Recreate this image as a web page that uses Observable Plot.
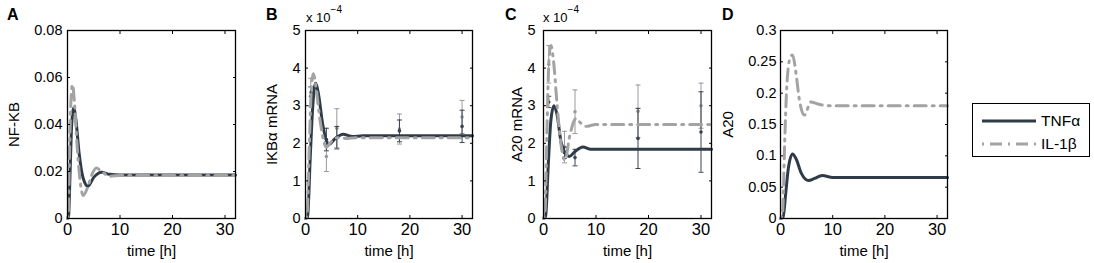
<!DOCTYPE html>
<html>
<head>
<meta charset="utf-8">
<script src="https://cdn.jsdelivr.net/npm/d3@7"></script>
<script src="https://cdn.jsdelivr.net/npm/@observablehq/plot@0.6"></script>
<style>
  html, body { margin: 0; padding: 0; background: #fff; }
  #wrap { position: relative; width: 1094px; height: 263px; font-family: "Liberation Sans", Arial, sans-serif; color: #000; }
  #wrap > div.p { position: absolute; top: 0; }
  .letter { position: absolute; font-weight: bold; font-size: 16px; top: 6px; }
  .exp { position: absolute; font-size: 13px; top: 8px; }
  .exp sup { font-size: 10px; position: relative; top: -4px; }
  #legend { position: absolute; left: 972px; top: 103px; width: 116px; height: 52px; border: 1.3px solid #000; background: #fff; }
  #legend .row { position: absolute; left: 8px; height: 20px; display: flex; align-items: center; font-size: 15.5px; }
  #legend svg { margin-right: 4px; }
</style>
</head>
<body>
<div id="wrap"></div>
<script>
// ---------- data ----------
const xTicks = [0, 10, 20, 30];
const seriesNames = ["TNFα", "IL-1β"];
const darkColor = "#303b48";
const grayColor = "#a3a3a3";

// Panel A: NF-KB
const aTnfT = [0, 0.2, 0.5, 0.8, 1.2, 1.6, 2.2, 3.0, 3.9, 5.0, 6.5, 8, 10, 32];
const aTnfV = [0, 0.001, 0.02, 0.040, 0.047, 0.042, 0.028, 0.017, 0.0137, 0.0175, 0.0197, 0.0188, 0.0185, 0.0185];
const aIlT = [0, 0.15, 0.4, 0.7, 0.95, 1.3, 1.8, 2.4, 3.0, 3.8, 4.7, 5.5, 6.5, 8, 10, 32];
const aIlV = [0, 0.002, 0.03, 0.052, 0.057, 0.050, 0.032, 0.016, 0.0098, 0.013, 0.019, 0.0215, 0.020, 0.018, 0.0183, 0.0183];
const aTicks = [0, 0.02, 0.04, 0.06, 0.08];

// Panel B: IKBa mRNA (x 1e-4)
const bTnfT = [0, 0.4, 0.9, 1.4, 1.9, 2.5, 3.3, 4.5, 5.5, 7.2, 9, 11, 32];
const bTnfV = [0, 0.05, 1.6, 3.0, 3.6, 3.3, 2.5, 1.97, 2.1, 2.24, 2.18, 2.2, 2.2];
const bIlT = [0, 0.3, 0.7, 1.1, 1.5, 2.0, 2.8, 4.0, 5.0, 6.2, 8, 10, 32];
const bIlV = [0, 0.1, 1.8, 3.4, 3.85, 3.5, 2.6, 1.9, 2.05, 2.15, 2.13, 2.15, 2.15];
const bTicks = [0, 1, 2, 3, 4, 5];
const bErrT = [1, 4, 6, 18, 30];
const bTnfM = [3.25, 2.1, 2.15, 2.33, 2.45];
const bTnfE = [0.25, 0.3, 0.3, 0.29, 0.43];
const bIlM = [3.35, 1.65, 2.4, 2.38, 2.7];
const bIlE = [0.38, 0.4, 0.52, 0.4, 0.44];

// Panel C: A20 mRNA (x 1e-4)
const cTnfT = [0, 0.4, 0.9, 1.4, 2.0, 2.6, 3.4, 4.9, 6, 7.5, 9, 11, 32];
const cTnfV = [0, 0.05, 1.4, 2.6, 3.0, 2.75, 2.0, 1.65, 1.78, 1.9, 1.84, 1.84, 1.84];
const cIlT = [0, 0.3, 0.7, 1.0, 1.4, 1.9, 2.6, 3.3, 4.1, 5.0, 6.2, 7, 8, 10, 32];
const cIlV = [0, 0.2, 2.6, 4.1, 4.6, 4.2, 3.0, 2.0, 1.55, 2.2, 2.66, 2.55, 2.45, 2.5, 2.5];
const cTicks = [0, 1, 2, 3, 4, 5];
const cErrT = [1, 4, 6, 18, 30];
const cTnfM = [3.1, 1.75, 1.62, 2.13, 2.3];
const cTnfE = [0.15, 0.15, 0.22, 0.8, 1.07];
const cIlM = [4.1, 1.9, 2.84, 2.85, 3.0];
const cIlE = [0.5, 0.42, 0.58, 0.7, 0.6];

// Panel D: A20 protein
const dTnfT = [0, 0.5, 1.0, 1.5, 2.3, 3.0, 4.0, 5.4, 6.5, 8.0, 10, 32];
const dTnfV = [0, 0.002, 0.04, 0.08, 0.103, 0.095, 0.072, 0.0605, 0.064, 0.0685, 0.0655, 0.0655];
const dIlT = [0, 0.4, 0.8, 1.2, 1.8, 2.3, 3.0, 3.6, 4.6, 5.8, 7, 9.5, 32];
const dIlV = [0, 0.01, 0.12, 0.21, 0.255, 0.261, 0.23, 0.19, 0.165, 0.186, 0.183, 0.18, 0.18];
const dTicks = [0, 0.05, 0.1, 0.15, 0.2, 0.25, 0.3];

// ---------- drawing ----------
const capSymbol = {draw(ctx, size) { const r = Math.sqrt(size / Math.PI); ctx.moveTo(-r, 0); ctx.lineTo(r, 0); }};
const fmt = d => String(+d.toFixed(4));

function rows(T, V) { return T.map((t, i) => ({t, v: V[i]})); }
function errRows(T, M, E) { return T.map((t, i) => ({t, m: M[i], lo: M[i] - E[i], hi: M[i] + E[i]})); }

function errMarks(data, color) {
  return [
    Plot.ruleX(data, {x: "t", y1: "lo", y2: "hi", stroke: color, strokeWidth: 1}),
    Plot.dot(data, {x: "t", y: "lo", symbol: capSymbol, r: 2.5, stroke: color, strokeWidth: 1}),
    Plot.dot(data, {x: "t", y: "hi", symbol: capSymbol, r: 2.5, stroke: color, strokeWidth: 1}),
    Plot.dot(data, {x: "t", y: "m", r: 1.8, fill: color, stroke: null})
  ];
}

function panel(opt) {
  const marks = [];
  if (opt.ilErr) marks.push(...errMarks(opt.ilErr, "#9a9a9a"));
  if (opt.tnfErr) marks.push(...errMarks(opt.tnfErr, "#3a4450"));
  marks.push(
    Plot.line(opt.tnf, {x: "t", y: "v", stroke: darkColor, strokeWidth: 3, curve: "monotone-x"}),
    Plot.line(opt.il, {x: "t", y: "v", stroke: grayColor, strokeWidth: 3, strokeDasharray: "2,6,12,6", curve: "monotone-x"}),
    Plot.frame({stroke: "#000", strokeWidth: 1.3}),
    Plot.axisX({anchor: "bottom", ticks: xTicks, tickSize: -3, tickPadding: 8, tickFormat: fmt, fontSize: 16.5, label: null}),
    Plot.axisX({anchor: "bottom", ticks: [], label: "time [h]", labelAnchor: "center", labelArrow: "none", labelOffset: 37}),
    Plot.axisX({anchor: "top", ticks: xTicks, tickSize: -3, tickFormat: () => "", label: null}),
    Plot.axisY({anchor: "left", ticks: opt.yTicks, tickSize: -3, tickPadding: opt.tp, tickFormat: fmt, fontSize: 14.5, label: null}),
    Plot.axisY({anchor: "right", ticks: opt.yTicks, tickSize: -3, tickFormat: () => "", label: null}),
    Plot.text([opt.yLabel], {text: d => d, frameAnchor: "left", rotate: -90, dx: -opt.labelDx,
      textAnchor: "middle", lineAnchor: "middle", fontSize: 15})
  );
  return Plot.plot({
    width: 240, height: 263,
    marginLeft: opt.ml, marginRight: opt.mr, marginTop: 30, marginBottom: 45,
    x: {domain: [0, 32]},
    y: {domain: opt.yDomain},
    style: {fontFamily: "'Liberation Sans', Arial, sans-serif", fontSize: "15px", color: "#000", background: "transparent", overflow: "visible"},
    marks
  });
}

const wrap = document.getElementById("wrap");
const specs = [
  {left: 0, ml: 67, mr: 5, tp: 8, yDomain: [0, 0.08], yTicks: aTicks, yLabel: "NF-KB", labelDx: 53,
   tnf: rows(aTnfT, aTnfV), il: rows(aIlT, aIlV)},
  {left: 240, ml: 65, mr: 8, tp: 8, yDomain: [0, 5], yTicks: bTicks, yLabel: "IKBα mRNA", labelDx: 33,
   tnf: rows(bTnfT, bTnfV), il: rows(bIlT, bIlV), tnfErr: errRows(bErrT, bTnfM, bTnfE), ilErr: errRows(bErrT, bIlM, bIlE)},
  {left: 480, ml: 63, mr: 9, tp: 11, yDomain: [0, 5], yTicks: cTicks, yLabel: "A20 mRNA", labelDx: 26,
   tnf: rows(cTnfT, cTnfV), il: rows(cIlT, cIlV), tnfErr: errRows(cErrT, cTnfM, cTnfE), ilErr: errRows(cErrT, cIlM, cIlE)},
  {left: 720, ml: 60, mr: 13, tp: 7, yDomain: [0, 0.3], yTicks: dTicks, yLabel: "A20", labelDx: 52,
   tnf: rows(dTnfT, dTnfV), il: rows(dIlT, dIlV)}
];
for (const s of specs) {
  const d = document.createElement("div");
  d.className = "p";
  d.style.left = s.left + "px";
  d.appendChild(panel(s));
  wrap.appendChild(d);
}

// panel letters and scale factors
const letters = [["A", 7], ["B", 266], ["C", 505], ["D", 722]];
for (const [t, x] of letters) {
  const e = document.createElement("div");
  e.className = "letter"; e.style.left = x + "px"; e.textContent = t;
  wrap.appendChild(e);
}
for (const x of [306, 543]) {
  const e = document.createElement("div");
  e.className = "exp"; e.style.left = x + "px";
  e.innerHTML = "x 10<sup>−4</sup>";
  wrap.appendChild(e);
}

// legend
const lg = document.createElement("div");
lg.id = "legend";
const styles = [{c: darkColor, dash: null}, {c: grayColor, dash: "2,6,12,6"}];
seriesNames.forEach((name, i) => {
  const r = document.createElement("div");
  r.className = "row";
  r.style.top = (7 + i * 23) + "px";
  const ns = "http://www.w3.org/2000/svg";
  const svg = document.createElementNS(ns, "svg");
  svg.setAttribute("width", 56); svg.setAttribute("height", 8);
  const ln = document.createElementNS(ns, "line");
  ln.setAttribute("x1", 1); ln.setAttribute("x2", 55); ln.setAttribute("y1", 4); ln.setAttribute("y2", 4);
  ln.setAttribute("stroke", styles[i].c); ln.setAttribute("stroke-width", 3);
  if (styles[i].dash) ln.setAttribute("stroke-dasharray", styles[i].dash);
  svg.appendChild(ln);
  r.appendChild(svg);
  const tx = document.createElement("span");
  tx.textContent = name;
  r.appendChild(tx);
  lg.appendChild(r);
});
wrap.appendChild(lg);
</script>
</body>
</html>
